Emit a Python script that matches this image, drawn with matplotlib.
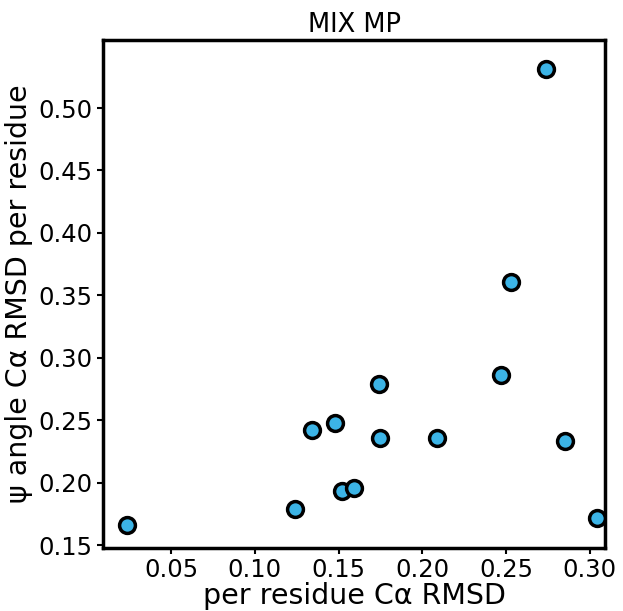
import matplotlib
matplotlib.use("Agg")
import matplotlib.pyplot as plt

x_vals = [0.0237, 0.124, 0.134, 0.148, 0.152, 0.159, 0.174, 0.175, 0.209, 0.247, 0.253, 0.274, 0.285, 0.304]
y_vals = [0.166, 0.179, 0.242, 0.248, 0.193, 0.196, 0.279, 0.236, 0.236, 0.286, 0.361, 0.531, 0.233, 0.172]

fig = plt.figure(figsize=(6.23, 6.11), dpi=100)
ax = fig.add_axes([103/623, 1-548/611, 502/623, 508/611])
ax.scatter(x_vals, y_vals, s=130, color="#3cb4e6", edgecolor="black", linewidth=2.5, zorder=3)
ax.set_xlim(0.0094, 0.309)
ax.set_ylim(0.1476, 0.5545)
ax.set_xticks([0.05, 0.10, 0.15, 0.20, 0.25, 0.30])
ax.set_yticks([0.15, 0.20, 0.25, 0.30, 0.35, 0.40, 0.45, 0.50])
ax.tick_params(labelsize=17.5, width=1.5, length=4)
for s in ax.spines.values():
    s.set_linewidth(2.5)
ax.set_xlabel("per residue Cα RMSD", fontsize=20.5, labelpad=0)
ax.set_ylabel("ψ angle Cα RMSD per residue", fontsize=20.5, labelpad=4)
ax.set_title("MIX MP", fontsize=18.5)
fig.savefig("out.png", dpi=100)
